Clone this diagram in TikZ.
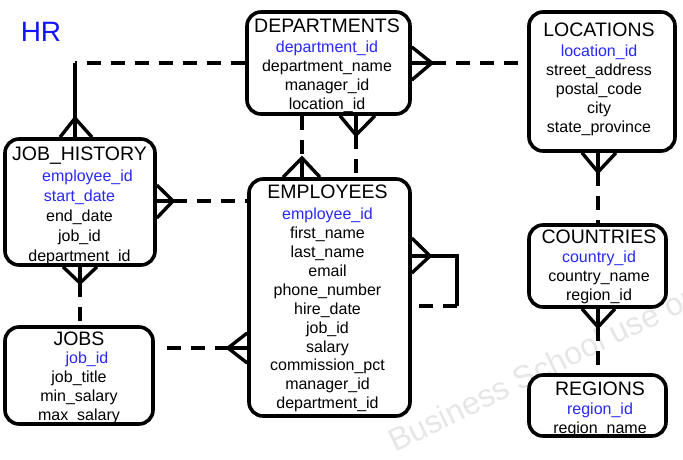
\documentclass[tikz,border=0pt]{standalone}
\usepackage{fontspec}
\setmainfont{Liberation Sans}
\usepackage{xcolor}
\usetikzlibrary{positioning, calc}

\definecolor{keyblue}{RGB}{40,40,255}
\definecolor{hrblue}{RGB}{20,20,255}
\definecolor{wmgray}{RGB}{230,230,230}
\newcommand{\tbltitle}[1]{{\fontsize{19.5}{19}\selectfont #1}}
\newcommand{\keyfield}[1]{\textcolor{keyblue}{#1}}

\begin{document}
\begin{tikzpicture}[
    x=1pt, y=-1pt,
    tbl/.style={draw, fill=white, line width=3.6pt, rounded corners=14pt, inner sep=0pt},
    fields/.style={align=center, inner sep=0pt, anchor=north, font=\fontsize{16}{18.9}\selectfont},
    rel/.style={line width=3.4pt},
    opt/.style={line width=3.4pt, dash pattern=on 14pt off 10pt},
]
\useasboundingbox (0,0) rectangle (683,459);

% watermark
\node[text=wmgray, font=\fontsize{32}{32}\selectfont, anchor=base west, rotate=26] (mark) at (392,454) {Business School use only};

\node[text=hrblue, font=\fontsize{28}{30}\selectfont] (hr) at (41,32) {HR};

% Tables
\node[tbl, minimum width=163pt, minimum height=102pt] (dept) at (328.5,63) {};
\node[fields] (dept-txt) at (327,19) {\tbltitle{DEPARTMENTS}\\[1pt] \keyfield{department\_id}\\ department\_name\\ manager\_id\\ location\_id};

\node[tbl, minimum width=146pt, minimum height=139pt] (loc) at (602,81.5) {};
\node[fields] (loc-txt) at (599,23) {\tbltitle{LOCATIONS}\\[1pt] \keyfield{location\_id}\\ street\_address\\ postal\_code\\ city\\ state\_province};

\node[tbl, minimum width=150pt, minimum height=126pt] (jh) at (80,202) {};
\node[fields] (jh-txt) at (79.5,147) {\tbltitle{JOB\_HISTORY}\\[2pt] \hspace{16pt}\keyfield{employee\_id}\\[1pt] \keyfield{start\_date}\\[1pt] end\_date\\[1pt] job\_id\\[1pt] department\_id};

\node[tbl, minimum width=161pt, minimum height=237pt] (emp) at (329.5,297.5) {};
\node[fields] (emp-txt) at (327.5,185) {\tbltitle{EMPLOYEES}\\[2pt] \keyfield{employee\_id}\\ first\_name\\ last\_name\\ email\\ phone\_number\\ hire\_date\\ job\_id\\ salary\\ commission\_pct\\ manager\_id\\ department\_id};

\node[tbl, minimum width=148pt, minimum height=97pt] (jobs) at (79,375.5) {};
\node[fields] (jobs-txt) at (79,332) {\tbltitle{JOBS}\\[-1pt] \hspace{16pt}\keyfield{job\_id}\\ job\_title\\ min\_salary\\ max\_salary};

\node[tbl, minimum width=137pt, minimum height=82pt] (ctry) at (597.5,266) {};
\node[fields] (ctry-txt) at (599,230) {\tbltitle{COUNTRIES}\\[0pt] \keyfield{country\_id}\\ country\_name\\ region\_id};

\node[tbl, minimum width=137pt, minimum height=61pt] (reg) at (597.5,405.5) {};
\node[fields] (reg-txt) at (600,382) {\tbltitle{REGIONS}\\[0pt] \keyfield{region\_id}\\ region\_name};

% DEPARTMENTS - JOB_HISTORY
\coordinate (jhbend) at (75,63);
\draw[opt] (dept.west) -- (jhbend);
\draw[rel] (jhbend) -- (jhbend |- jh.north);
\draw[rel] ($(jhbend |- jh.north)+(-15,0)$) -- ($(jhbend |- jh.north)+(0,-19)$) -- ($(jhbend |- jh.north)+(17,0)$);

% DEPARTMENTS - LOCATIONS
\coordinate (deptloc) at ($(dept.east)+(20,0)$);
\draw[rel] (dept.east) -- (deptloc);
\draw[rel] ($(dept.east)+(0,-16)$) -- (deptloc) -- ($(dept.east)+(0,17)$);
\draw[opt] (deptloc) -- (loc.west |- deptloc);

% DEPARTMENTS - EMPLOYEES (department)
\coordinate (deptemp) at (302,158);
\draw[opt] (deptemp |- dept.south) -- (deptemp);
\draw[rel] (deptemp) -- (deptemp |- emp.north);
\draw[rel] ($(deptemp |- emp.north)+(-19,0)$) -- (deptemp) -- ($(deptemp |- emp.north)+(18,0)$);

% DEPARTMENTS - EMPLOYEES (manager)
\coordinate (mgrdept) at (356,135);
\draw[rel] (mgrdept |- dept.south) -- (mgrdept);
\draw[rel] ($(mgrdept |- dept.south)+(-16,0)$) -- (mgrdept) -- ($(mgrdept |- dept.south)+(19,0)$);
\draw[opt] (mgrdept) -- (mgrdept |- emp.north);

% JOB_HISTORY - EMPLOYEES
\coordinate (jhemp) at (173,201);
\draw[rel] (jh.east |- jhemp) -- (jhemp);
\draw[rel] ($(jh.east |- jhemp)+(0,-16)$) -- (jhemp) -- ($(jh.east |- jhemp)+(0,17)$);
\draw[opt] (jhemp) -- (emp.west |- jhemp);

% JOB_HISTORY - JOBS
\coordinate (jhjobs) at (80,283);
\draw[rel] (jh.south) -- (jhjobs);
\draw[rel] ($(jh.south)+(-17,0)$) -- (jhjobs) -- ($(jh.south)+(17,0)$);
\draw[opt] (jhjobs) -- (jhjobs |- jobs.north);

% JOBS - EMPLOYEES
\coordinate (jobsemp) at (228,348);
\draw[opt] ($(jobs.east |- jobsemp)+(12,0)$) -- (jobsemp);
\draw[rel] (jobsemp) -- (emp.west |- jobsemp);
\draw[rel] ($(emp.west |- jobsemp)+(0,-15)$) -- (jobsemp) -- ($(emp.west |- jobsemp)+(0,15)$);

% EMPLOYEES - EMPLOYEES (manager)
\coordinate (selfapex) at (430,256);
\coordinate (selftop) at (457,256);
\coordinate (selfbot) at (457,306);
\draw[rel] (emp.east |- selfapex) -- (selftop) -- (selfbot);
\draw[rel] ($(emp.east |- selfapex)+(0,-18)$) -- (selfapex) -- ($(emp.east |- selfapex)+(0,17)$);
\draw[opt] (selfbot) -- (emp.east |- selfbot);

% LOCATIONS - COUNTRIES
\coordinate (locctry) at (598,172);
\draw[rel] (locctry |- loc.south) -- (locctry);
\draw[rel] ($(locctry |- loc.south)+(-16,0)$) -- (locctry) -- ($(locctry |- loc.south)+(18,0)$);
\draw[opt] (locctry) -- (locctry |- ctry.north);

% COUNTRIES - REGIONS
\coordinate (ctryreg) at (598,327);
\draw[rel] (ctryreg |- ctry.south) -- (ctryreg);
\draw[rel] ($(ctryreg |- ctry.south)+(-16,0)$) -- (ctryreg) -- ($(ctryreg |- ctry.south)+(17,0)$);
\draw[opt] (ctryreg) -- (ctryreg |- reg.north);

\end{tikzpicture}
\end{document}
